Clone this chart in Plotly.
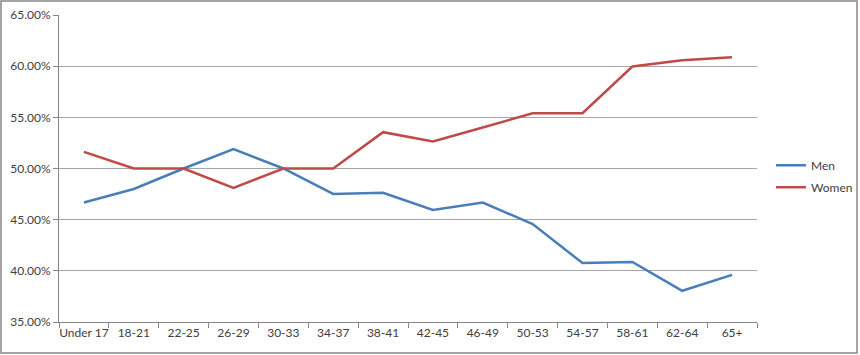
import plotly.graph_objects as go

categories = ["Under 17", "18-21", "22-25", "26-29", "30-33", "34-37", "38-41",
              "42-45", "46-49", "50-53", "54-57", "58-61", "62-64", "65+"]
men = [0.4667, 0.4800, 0.5000, 0.5190, 0.5000, 0.4752, 0.4762, 0.4595,
       0.4667, 0.4457, 0.4076, 0.4086, 0.3805, 0.3960]
women = [0.5163, 0.5000, 0.5000, 0.4810, 0.5000, 0.5000, 0.5355, 0.5265,
         0.5400, 0.5540, 0.5540, 0.5997, 0.6058, 0.6088]

font = "Lato, Open Sans, sans-serif"
fig = go.Figure()
fig.add_trace(go.Scatter(x=categories, y=men, mode="lines", name="Men",
                         legendgroup="m",
                         line=dict(color="#4A7EBB", width=2.5)))
fig.add_trace(go.Scatter(x=categories, y=women, mode="lines", name="Women",
                         legendgroup="w",
                         line=dict(color="#BE4B48", width=2.5)))

fig.update_layout(
    width=860, height=355,
    margin=dict(l=59, r=103, t=15, b=33, autoexpand=False),
    paper_bgcolor="white", plot_bgcolor="white",
    font=dict(family=font, size=12, color="#404040"),
    legend=dict(x=1.02, y=0.475, xanchor="left", yanchor="middle",
                font=dict(size=12, color="#404040"), tracegroupgap=3,
                itemwidth=30, bgcolor="rgba(0,0,0,0)"),
    showlegend=True,
)
fig.update_xaxes(type="category", range=[-0.5, 13.5], showgrid=False,
                 showline=True, linecolor="#868686", linewidth=1,
                 ticks="outside", tickson="boundaries", ticklen=5,
                 tickcolor="#868686", tickangle=0, automargin=False,
                 tickfont=dict(size=12, color="#404040"))
fig.update_yaxes(range=[0.35, 0.65], dtick=0.05, tick0=0.35, tickformat=".2%",
                 showgrid=True, gridcolor="#A6A6A6", gridwidth=1,
                 showline=True, linecolor="#868686", linewidth=1,
                 ticks="outside", ticklen=5, tickcolor="#868686",
                 zeroline=False, automargin=False,
                 tickfont=dict(size=12, color="#404040"))

fig.add_shape(type="rect", xref="paper", yref="paper",
              x0=-0.0831, x1=1.1433, y0=-0.1010, y1=1.0456,
              line=dict(color="#868686", width=1.5), layer="below")

fig.write_html("out.html")
